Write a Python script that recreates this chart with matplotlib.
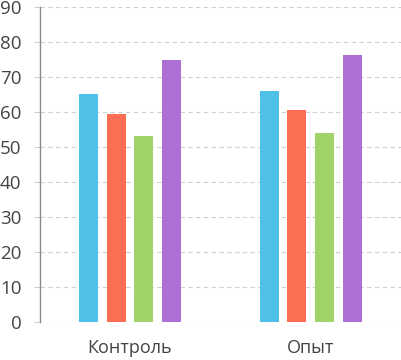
import numpy as np
import matplotlib.pyplot as plt

# Groups and series values
categories = ['Контроль', 'Опыт']
series_1 = [65.1, 66.0]
series_2 = [59.4, 60.6]
series_3 = [53.3, 53.9]
series_4 = [74.9, 76.3]
colors = ['#4FC1E9', '#FC6E51', '#A0D468', '#AD6FD5']

plt.rcParams['font.family'] = ['Open Sans', 'DejaVu Sans']

fig = plt.figure(figsize=(4.01, 3.60), dpi=100)
ax = fig.add_axes([39.5 / 401, 37.7 / 360, (401 - 39.5) / 401, 315.3 / 360])

x = np.arange(len(categories))
width = 0.105
step = 0.153
for i, (vals, c) in enumerate(zip([series_1, series_2, series_3, series_4], colors)):
    ax.bar(x + (i - 1.5) * step, vals, width, color=c, zorder=3)

ax.set_xlim(-0.5, 1.5)
ax.set_ylim(0, 90)
ax.set_yticks(range(0, 91, 10))
ax.set_xticks(x)
ax.set_xticklabels(categories)

ax.grid(axis='y', color='#cfcfcf', linestyle=(0, (4, 3)), linewidth=0.8, zorder=0)
for s in ['top', 'right', 'bottom']:
    ax.spines[s].set_visible(False)
ax.spines['left'].set_color('#8a8a8a')
ax.spines['left'].set_linewidth(1.0)

ax.tick_params(axis='y', length=4.5, color='#cfcfcf', labelsize=13.5, labelcolor='#444444', pad=8.5)
ax.tick_params(axis='x', length=0, labelsize=13, labelcolor='#444444', pad=12)

fig.savefig('out.png', dpi=100)
